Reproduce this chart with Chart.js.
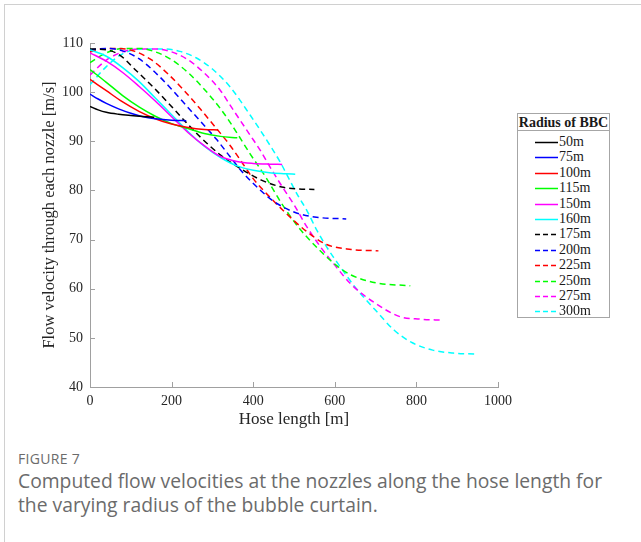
<!DOCTYPE html>
<html>
<head>
<meta charset="utf-8">
<script src="https://cdn.jsdelivr.net/npm/chart.js@4.4.1/dist/chart.umd.min.js"></script>
<style>
  body { margin: 0; background: #fff; width: 641px; height: 542px; overflow: hidden; position: relative; }
  #frame { position: absolute; left: 4px; top: 4px; width: 700px; height: 600px; border-top: 1px solid #d0d0d0; border-left: 1px solid #d0d0d0; }
  #wrap { position: absolute; left: 0; top: 0; width: 641px; height: 445px; }
  #legend { position: absolute; left: 517px; top: 113px; width: 91px; height: 203px; border: 1px solid #a6a6a6; background: #fff;
            font-family: "Liberation Serif", serif; color: #1a1a1a; }
  #legend .ttl { position: absolute; left: 0; top: 0; width: 100%; height: 16px; line-height: 18px; text-align: center; font-weight: bold; font-size: 14px; border-bottom: 1px solid #a6a6a6; }
  #legend .row { position: absolute; left: 0; height: 16px; line-height: 16px; font-size: 14px; width: 100%; }
  #legend svg { position: absolute; left: 17px; top: 0; }
  #legend .row span { position: absolute; left: 41px; top: 0; }
  #fig { position: absolute; left: 18px; top: 450px; font-family: "Open Sans", sans-serif; font-size: 14px; line-height: 18px; color: #6b6b6b; letter-spacing: 0.3px; }
  #cap { position: absolute; left: 18px; top: 469px; width: 600px; font-family: "Open Sans", sans-serif; font-size: 19.3px; line-height: 24px; color: #6b6b6b; }
</style>
</head>
<body>
<div id="frame"></div>
<div id="wrap"><canvas id="c" width="641" height="445"></canvas></div>
<div id="legend"></div>
<div id="fig">FIGURE 7</div>
<div id="cap">Computed flow velocities at the nozzles along the hose length for the varying radius of the bubble curtain.</div>
<script>
// ---- data (hose length [m] / velocity [m/s]) ----
const radii = ["50m", "75m", "100m", "115m", "150m", "160m", "175m", "200m", "225m", "250m", "275m", "300m"];
const xTicks = [0, 200, 400, 600, 800, 1000];
const yTicks = [40, 50, 60, 70, 80, 90, 100, 110];

const len50 = [0, 20, 40, 70, 100, 130, 157];
const vel50 = [97.1, 96.4, 95.9, 95.5, 95.25, 95.05, 94.9];
const len75 = [0, 20, 40, 70, 100, 130, 160, 200, 236];
const vel75 = [99.6, 98.6, 97.7, 96.6, 95.7, 95.0, 94.6, 94.3, 94.2];
const len100 = [0, 40, 80, 120, 160, 200, 240, 280, 314];
const vel100 = [102.6, 100.3, 98.0, 96.1, 94.6, 93.5, 92.8, 92.4, 92.3];
const len115 = [0, 40, 80, 120, 160, 200, 240, 280, 320, 361];
const vel115 = [104.6, 102.0, 99.3, 97.0, 95.1, 93.6, 92.6, 91.6, 91.0, 90.7];
const len150 = [0, 40, 80, 120, 160, 200, 240, 280, 320, 360, 400, 440, 471];
const vel150 = [108.0, 106.3, 104.0, 101.2, 98.2, 95.0, 91.8, 89.1, 86.9, 85.9, 85.5, 85.35, 85.3];
const len160 = [0, 40, 80, 120, 160, 200, 240, 280, 320, 360, 400, 440, 480, 503];
const vel160 = [108.6, 107.3, 105.0, 102.2, 98.8, 95.4, 92.0, 89.0, 86.7, 85.0, 84.1, 83.6, 83.4, 83.3];
const len175 = [0, 40, 72, 113, 154, 194, 235, 270, 320, 370, 420, 470, 510, 550];
const vel175 = [108.8, 108.6, 107.6, 104.4, 101.1, 97.6, 93.9, 90.9, 87.2, 84.4, 82.1, 80.7, 80.3, 80.2];
const len200 = [0, 40, 80, 120, 160, 200, 240, 280, 310, 343, 376, 417, 450, 500, 550, 628];
const vel200 = [108.6, 108.9, 108.4, 106.8, 104.0, 100.6, 96.9, 93.2, 90.4, 86.9, 83.5, 80.1, 77.8, 75.6, 74.6, 74.2];
const len225 = [0, 30, 70, 110, 150, 190, 230, 270, 310, 343, 370, 400, 440, 480, 530, 580, 640, 707];
const vel225 = [108.2, 108.8, 108.9, 108.3, 106.6, 103.8, 100.4, 96.6, 92.6, 89.2, 86.0, 82.4, 78.7, 75.4, 71.7, 69.0, 68.0, 67.7];
const len250 = [0, 40, 80, 120, 160, 200, 240, 280, 320, 343, 392, 430, 470, 510, 550, 600, 640, 700, 785];
const vel250 = [106.0, 108.0, 108.9, 108.9, 108.2, 106.6, 104.0, 100.6, 96.6, 93.9, 87.5, 82.8, 77.3, 72.6, 68.9, 65.0, 62.8, 61.2, 60.6];
const len275 = [0, 40, 80, 120, 160, 200, 240, 280, 320, 343, 392, 417, 441, 470, 500, 530, 565, 600, 640, 700, 760, 810, 864];
const vel275 = [103.5, 106.5, 108.2, 108.8, 108.8, 108.2, 106.6, 103.9, 100.3, 97.4, 91.3, 88.2, 84.8, 80.9, 77.1, 72.8, 68.5, 64.8, 60.9, 57.0, 54.3, 53.8, 53.6];
const len300 = [0, 40, 80, 130, 180, 220, 260, 300, 343, 392, 417, 441, 466, 485, 510, 531, 556, 580, 613, 650, 700, 745, 790, 840, 890, 942];
const vel300 = [101.5, 105.2, 107.8, 108.8, 108.8, 108.3, 107.0, 104.7, 101.1, 95.4, 92.3, 89.2, 85.8, 82.8, 78.9, 76.0, 71.9, 68.5, 64.5, 60.3, 55.6, 51.6, 49.0, 47.5, 46.9, 46.7];

const lens = [len50, len75, len100, len115, len150, len160, len175, len200, len225, len250, len275, len300];
const vels = [vel50, vel75, vel100, vel115, vel150, vel160, vel175, vel200, vel225, vel250, vel275, vel300];
const colors = ["#000000", "#0000ff", "#ff0000", "#00ff00", "#ff00ff", "#00ffff"];

const AXIS = "#a0a0a0";
const SERIF = "'Liberation Serif', 'DejaVu Serif', serif";

const datasets = radii.map((r, i) => ({
    label: r,
    data: lens[i].map((x, k) => ({ x, y: vels[i][k] })),
    borderColor: colors[i % 6],
    borderDash: i >= 6 ? [6, 4] : [],
    borderWidth: 1.5,
    pointRadius: 0,
    fill: false,
    cubicInterpolationMode: "monotone"
}));

// MATLAB style ticks pointing into the axes
const innerTicks = {
    id: "innerTicks",
    afterDraw(chart) {
        const { ctx, chartArea: a, scales: { x, y } } = chart;
        ctx.save();
        ctx.strokeStyle = AXIS;
        ctx.lineWidth = 1;
        ctx.beginPath();
        xTicks.forEach((v) => {
            const px = Math.round(x.getPixelForValue(v)) + 0.5;
            ctx.moveTo(px, a.bottom); ctx.lineTo(px, a.bottom - 5);
        });
        yTicks.forEach((v) => {
            const py = Math.round(y.getPixelForValue(v)) + 0.5;
            ctx.moveTo(a.left, py); ctx.lineTo(a.left + 5, py);
        });
        ctx.stroke();
        ctx.restore();
    }
};

new Chart(document.getElementById("c"), {
    type: "line",
    data: { datasets },
    options: {
        responsive: false,
        animation: false,
        layout: { padding: { left: 0, top: 43, right: 143, bottom: 0 } },
        plugins: { legend: { display: false }, tooltip: { enabled: false } },
        scales: {
            x: {
                type: "linear", min: 0, max: 1000,
                afterBuildTicks: (s) => { s.ticks = xTicks.map((v) => ({ value: v })); },
                afterFit: (s) => { s.height = 58; },
                grid: { display: false, drawTicks: false },
                border: { display: true, color: AXIS, width: 1 },
                ticks: { color: "#262626", padding: 6, callback: (v) => String(v), font: { family: SERIF, size: 14 } },
                title: { display: true, text: "Hose length [m]", color: "#262626", padding: { top: 0, bottom: 15 }, font: { family: SERIF, size: 17 } }
            },
            y: {
                min: 40, max: 110,
                afterBuildTicks: (s) => { s.ticks = yTicks.map((v) => ({ value: v })); },
                afterFit: (s) => { s.width = 90; },
                grid: { display: false, drawTicks: false },
                border: { display: true, color: AXIS, width: 1 },
                ticks: { color: "#262626", padding: 7, callback: (v) => String(v), font: { family: SERIF, size: 14 } },
                title: { display: true, text: "Flow velocity through each nozzle [m/s]", color: "#262626", padding: { top: 40, bottom: 0 }, font: { family: SERIF, size: 16.5 } }
            }
        }
    },
    plugins: [innerTicks]
});

// legend box, built from the same series lists
const lg = document.getElementById("legend");
let html = '<div class="ttl">Radius of BBC</div>';
radii.forEach((r, i) => {
    const top = 20 + i * 15.4;
    const dash = i >= 6 ? 'stroke-dasharray="5 3"' : "";
    html += `<div class="row" style="top:${top}px"><svg width="23" height="16"><line x1="0" y1="8.5" x2="23" y2="8.5" stroke="${colors[i % 6]}" stroke-width="1.5" ${dash}/></svg><span>${r}</span></div>`;
});
lg.innerHTML = html;
</script>
</body>
</html>
